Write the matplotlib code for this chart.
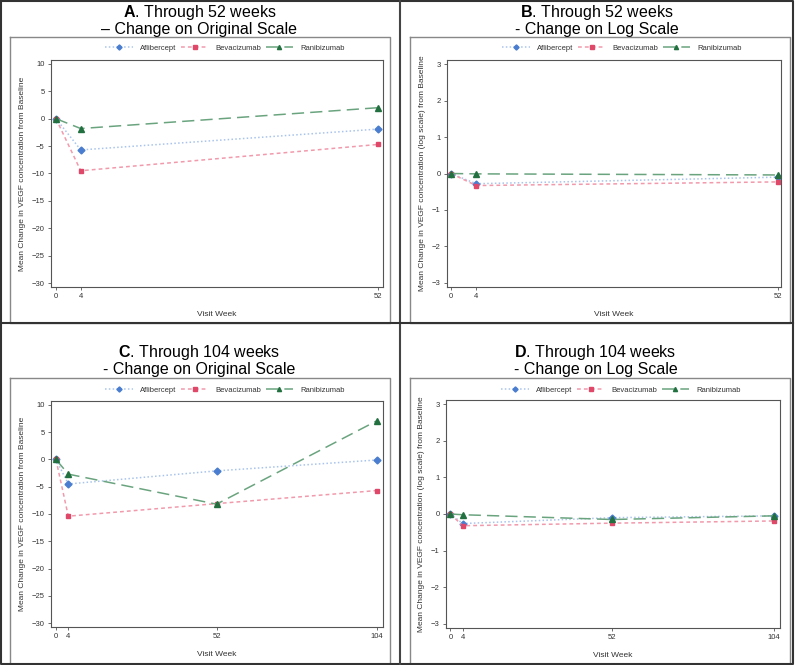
import matplotlib
matplotlib.use("Agg")
import matplotlib.pyplot as plt
from matplotlib.lines import Line2D

plt.rcParams['font.family'] = ['Liberation Sans', 'DejaVu Sans']
plt.rcParams['mathtext.fontset'] = 'custom'
plt.rcParams['mathtext.rm'] = 'Liberation Sans'
plt.rcParams['mathtext.bf'] = 'Liberation Sans:bold'

# data
weeks_52 = [0, 4, 52]
weeks_104 = [0, 4, 52, 104]

a_afl = [0, -5.7, -1.9]
a_bev = [0, -9.5, -4.7]
a_ran = [0, -1.8, 2.0]

b_afl = [0, -0.28, -0.10]
b_bev = [0, -0.33, -0.23]
b_ran = [0, -0.01, -0.04]

c_afl = [0, -4.5, -2.1, -0.1]
c_bev = [0, -10.4, -8.1, -5.7]
c_ran = [0, -2.7, -8.2, 7.1]

d_afl = [0, -0.26, -0.10, -0.05]
d_bev = [0, -0.32, -0.25, -0.19]
d_ran = [0, -0.02, -0.15, -0.05]

drugs = ['Aflibercept', 'Bevacizumab', 'Ranibizumab']

W, H = 800, 665
fig = plt.figure(figsize=(W / 100, H / 100), dpi=100)

# stiller for hver serie
styles = {
    'Aflibercept': dict(color='#a9c4ec', ls=(0, (1, 1.5)), marker='D', mfc='#4a7dd0', mec='#4a7dd0', ms=3.5),
    'Bevacizumab': dict(color='#f19aac', ls=(0, (2.5, 2)), marker='s', mfc='#e0486a', mec='#e0486a', ms=3.5),
    'Ranibizumab': dict(color='#6aa47f', ls=(0, (8, 4)), marker='^', mfc='#22703f', mec='#22703f', ms=4),
}


def box(l, t, r, b):
    return [l / W, 1 - b / H, (r - l) / W, (b - t) / H]


def fig_line(x, y, color, lw):
    fig.add_artist(Line2D([v / W for v in x], [1 - v / H for v in y],
                          transform=fig.transFigure, color=color, lw=lw))


def rect(l, t, r, b, color, lw):
    fig_line([l, r, r, l, l], [t, t, b, b, t], color, lw)


def panel(pos, weeks, series, ylim, yticks, xlim, ylabel, title, title_y, leg_y):
    ax = fig.add_axes(box(*pos))
    for name, vals in zip(drugs, series):
        ax.plot(weeks, vals, lw=1.1, label=name, **styles[name])
    ax.set_xlim(xlim)
    ax.set_ylim(ylim)
    ax.set_xticks(weeks)
    ax.set_yticks(yticks)
    ax.tick_params(labelsize=5.5, length=2.5, width=0.6, color='#555555', pad=2, labelcolor='#333333')
    for s in ax.spines.values():
        s.set_color('#555555')
        s.set_linewidth(0.8)
    ax.set_xlabel('Visit Week', fontsize=6, color='#333333', labelpad=8)
    ax.set_ylabel(ylabel, fontsize=6, color='#333333', labelpad=4)
    cx = (pos[0] + pos[2]) / 2 / W
    fig.legend(*ax.get_legend_handles_labels(), loc='center', bbox_to_anchor=(cx + 0.01, 1 - leg_y / H),
               ncol=3, frameon=False, fontsize=5.5, handlelength=3.6, columnspacing=0.6,
               handletextpad=0.9, labelcolor='#333333', markerscale=0.75)
    fig.text(cx - 0.022, 1 - title_y / H, title, ha='center', va='center', fontsize=11.5, linespacing=1.05)
    return ax


panel((51, 60, 383, 287), weeks_52, [a_afl, a_bev, a_ran], (-30.7, 10.7), range(-30, 11, 5), (-0.8, 52.8),
      'Mean Change in VEGF concentration from Baseline',
      '$\\bf{A}$. Through 52 weeks\n\u2013 Change on Original Scale', 20, 48)
panel((447, 60, 781, 287), weeks_52, [b_afl, b_bev, b_ran], (-3.11, 3.11), range(-3, 4), (-0.64, 52.5),
      'Mean Change in VEGF concentration (log scale) from Baseline',
      '$\\bf{B}$. Through 52 weeks\n- Change on Log Scale', 20, 48)
panel((51, 401, 383, 627), weeks_104, [c_afl, c_bev, c_ran], (-30.7, 10.7), range(-30, 11, 5), (-1.6, 105.9),
      'Mean Change in VEGF concentration from Baseline',
      '$\\bf{C}$. Through 104 weeks\n- Change on Original Scale', 360, 390)
panel((446, 400, 780, 628), weeks_104, [d_afl, d_bev, d_ran], (-3.11, 3.11), range(-3, 4), (-1.4, 106.0),
      'Mean Change in VEGF concentration (log scale) from Baseline',
      '$\\bf{D}$. Through 104 weeks\n- Change on Log Scale', 360, 390)

# rammer
rect(10, 37, 390, 323, '#888888', 1.0)
rect(410, 37, 790, 323, '#888888', 1.0)
rect(10, 378, 390, 664, '#888888', 1.0)
rect(410, 378, 790, 664, '#888888', 1.0)
rect(1, 1, 793, 664, '#333333', 1.5)
fig_line([400, 400], [0, 665], '#444444', 1.5)
fig_line([0, 793], [323, 323], '#333333', 1.5)

fig.savefig('out.png', dpi=100)
